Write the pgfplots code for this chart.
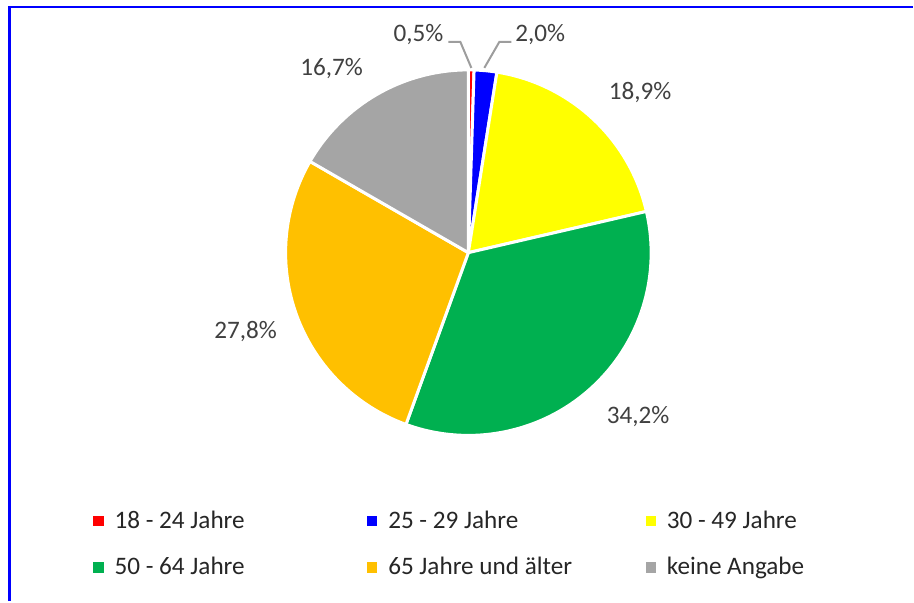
\documentclass[border=0pt]{standalone}
\usepackage{pgfplots}
\pgfplotsset{compat=1.18}
\usepackage{pgfplotstable}
\usepackage{fontspec}
\setmainfont{Carlito}

\definecolor{c0}{HTML}{FF0000}
\definecolor{c1}{HTML}{0000FF}
\definecolor{c2}{HTML}{FFFF00}
\definecolor{c3}{HTML}{00B050}
\definecolor{c4}{HTML}{FFC000}
\definecolor{c5}{HTML}{A5A5A5}
\definecolor{txt}{HTML}{404040}
\definecolor{legtxt}{HTML}{262626}
\definecolor{frame}{HTML}{0000FF}

% share in percent, label position (pixels, y from top, baseline)
\pgfplotstableread[col sep=comma]{
label,value,lx,ly
18 - 24 Jahre,0.5,419,42
25 - 29 Jahre,2.0,541,42
30 - 49 Jahre,18.9,641,100
50 - 64 Jahre,34.2,639,424
65 Jahre und älter,27.8,246,339
keine Angabe,16.7,332,76
}\piedata

\newcommand\labelfont{\fontsize{12.6}{15}\selectfont}
\newcommand\legfont{\fontsize{12.6}{15}\selectfont}

% total of all slices
\gdef\total{0}
\pgfplotsinvokeforeach{0,...,5}{%
  \pgfplotstablegetelem{#1}{value}\of\piedata
  \pgfmathparse{\total+\pgfplotsretval}\xdef\total{\pgfmathresult}%
}

\begin{document}
\begin{tikzpicture}
\begin{axis}[
    x=0.5pt, y=0.5pt,
    xmin=0, xmax=914, ymin=0, ymax=602,
    disabledatascaling,
    hide axis,
    clip=false,
    legend columns=3,
    legend cell align=left,
    legend image code/.code={\fill[#1, draw=none] (0pt,-2.6pt) rectangle (5.2pt,2.6pt);},
    legend style={draw=none, fill=none, inner sep=0pt,
      at={(axis cs:93,91)}, anchor=north west,
      font=\legfont, text=legtxt,
      nodes={inner sep=0pt},
      row sep=13pt,
      /tikz/every odd column/.append style={column sep=5.5pt},
      /tikz/every even column/.append style={column sep=16.3pt}},
  ]
  \path (axis cs:0,0) rectangle (axis cs:914,602);

  % wedges, clockwise from the top
  \gdef\cum{0}
  \pgfplotsinvokeforeach{0,...,5}{
    \pgfplotstablegetelem{#1}{value}\of\piedata
    \let\v\pgfplotsretval
    \pgfmathsetmacro\aa{90-\cum/\total*360}
    \pgfmathsetmacro\ab{90-(\cum+\v)/\total*360}
    \pgfmathsetmacro\sx{469+183*cos(\aa)}
    \pgfmathsetmacro\sy{349+183*sin(\aa)}
    \edef\temp{\noexpand\filldraw[fill=c#1, draw=white, line width=1.5pt, line join=round]
      (axis cs:469,349) -- (axis cs:\sx,\sy)
      arc[start angle=\aa, end angle=\ab, radius=91.5pt] -- cycle;}
    \temp
    \pgfmathparse{\cum+\v}\xdef\cum{\pgfmathresult}
  }

  % data labels
  \pgfplotsinvokeforeach{0,...,5}{
    \pgfplotstablegetelem{#1}{value}\of\piedata \let\v\pgfplotsretval
    \pgfplotstablegetelem{#1}{lx}\of\piedata \let\lx\pgfplotsretval
    \pgfplotstablegetelem{#1}{ly}\of\piedata
    \pgfmathsetmacro\lyy{602-\pgfplotsretval}
    \edef\temp{\noexpand\node[anchor=base, text=txt, font=\noexpand\labelfont, inner sep=0pt]
      at (axis cs:\lx,\lyy)
      {\noexpand\pgfmathprintnumber[fixed, fixed zerofill, precision=1, use comma, assume math mode=true]{\v}\noexpand\%};}
    \temp
  }

  % leader lines for the two thin slices
  \draw[color=c5!95!black, line width=1pt] (axis cs:449,560) -- (axis cs:461,560) -- (axis cs:472,534);
  \draw[color=c5!95!black, line width=1pt] (axis cs:512,560) -- (axis cs:500,560) -- (axis cs:485,534);

  % chart frame (top and left edges visible)
  \draw[frame, line width=1.25pt] (axis cs:9.5,0) -- (axis cs:9.5,595) -- (axis cs:914,595);

  \addlegendimage{fill=c0}\addlegendentry{\makebox[110pt][l]{18 - 24 Jahre}}
  \addlegendimage{fill=c1}\addlegendentry{\makebox[112.5pt][l]{25 - 29 Jahre}}
  \addlegendimage{fill=c2}\addlegendentry{\makebox[110pt][l]{30 - 49 Jahre}}
  \addlegendimage{fill=c3}\addlegendentry{\makebox[110pt][l]{50 - 64 Jahre}}
  \addlegendimage{fill=c4}\addlegendentry{\makebox[112.5pt][l]{65 Jahre und älter}}
  \addlegendimage{fill=c5}\addlegendentry{\makebox[110pt][l]{keine Angabe}}
\end{axis}
\end{tikzpicture}
\end{document}
